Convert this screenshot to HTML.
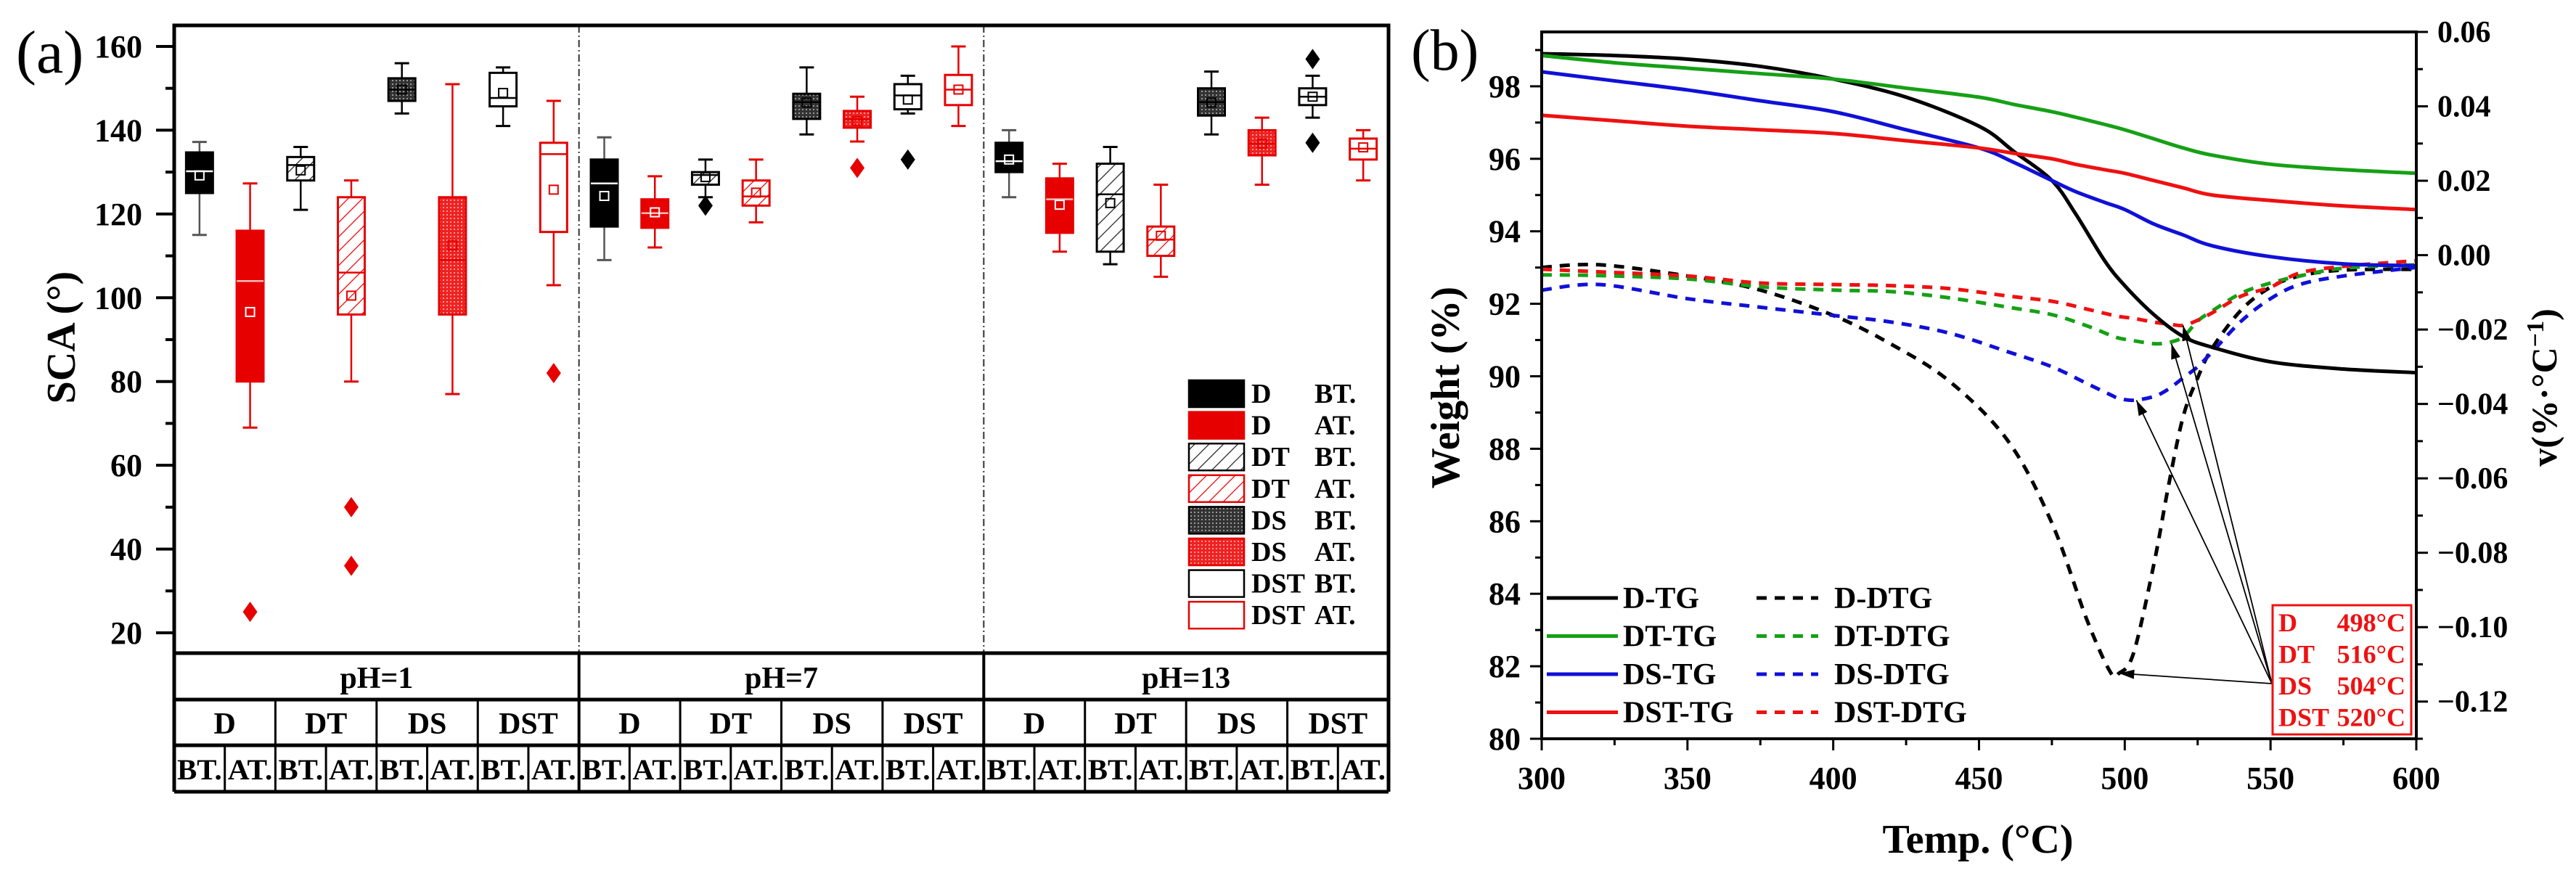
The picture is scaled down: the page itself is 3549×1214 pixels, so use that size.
<!DOCTYPE html>
<html><head><meta charset="utf-8"><style>
html,body{margin:0;padding:0;background:#fff;}
svg{display:block;font-family:"Liberation Serif",serif;}
</style></head><body>
<svg id="fig" width="3549" height="1214" viewBox="0 0 3549 1214" xmlns="http://www.w3.org/2000/svg">
<defs>
<pattern id="hatchK" width="14" height="14" patternUnits="userSpaceOnUse" patternTransform="rotate(45)"><rect width="14" height="14" fill="#fff"/><line x1="0" y1="0" x2="0" y2="14" stroke="#222" stroke-width="2.5"/></pattern>
<pattern id="hatchR" width="14" height="14" patternUnits="userSpaceOnUse" patternTransform="rotate(45)"><rect width="14" height="14" fill="#fff"/><line x1="0" y1="0" x2="0" y2="14" stroke="#e00" stroke-width="2.5"/></pattern>
<pattern id="dotK" width="5" height="5" patternUnits="userSpaceOnUse"><rect width="5" height="5" fill="#333"/><rect width="2" height="2" fill="#999"/></pattern>
<pattern id="dotR" width="5" height="5" patternUnits="userSpaceOnUse"><rect width="5" height="5" fill="#e22"/><rect width="2" height="2" fill="#f99"/></pattern>
</defs>
<text x="22" y="100" font-size="84">(a)</text>
<text x="1944" y="96" font-size="80">(b)</text>
<g id="A"></g>
<g id="B"></g>
</svg>
<script>
// ---------- Panel (a) data ----------
const groups = ["pH=1","pH=7","pH=13"];
const samples = ["D","DT","DS","DST"];
const states = ["BT.","AT."];
// [whiskerLow, q1, median, q3, whiskerHigh, mean]
const boxesPH1 = [[115,125,130.2,134.7,137.2,129.2],[69,80,104,116,127.3,96.6],[121,128,131.7,133.6,136,130.4],[80,96,106,124,128,100.5],[144,147,149.7,152.4,156,149.7],[77,96,109,124,151,112.5],[141,145.7,147.7,153.7,155,148.9],[103,115.7,134.3,137,147,125.8]];
const boxesPH7 = [[109,117,127.3,133,138.3,124.3],[112,116.7,120.2,123.5,129,120.4],[124,127,129.3,130,133,128.8],[118,122,124.2,128,133,125.1],[139,142.7,146.7,148.7,155,146.6],[137.3,140.6,142.6,144.6,148,142.2],[144,145,148.3,151,153,147.3],[141,146,149.7,153.2,160,149.7]];
const boxesPH13 = [[124,130,132.6,137,140,133],[111,115.5,123.5,128.5,132,122.2],[108,111,124.7,132,136,122.6],[105,110,113.9,117,127,114.8],[139,143.5,146.7,150,154,146.6],[127,134,136.8,140,143,136.8],[143,146,148,150,153,148],[128,133,135.6,138,140,135.9]];
const outliers = [[1,25],[3,50],[3,36],[7,82],[10,122],[13,131],[14,133],[22,157],[22,137]];
const yTicksA = [20,40,60,80,100,120,140,160];

// ---------- Panel (b) data ----------
const temps = [300,325,350,375,400,425,450,462,475,483,493,500,510,520,530,550,575,600];
const dTG   = [98.9,98.85,98.75,98.55,98.2,97.7,96.9,96.2,95.4,94.5,93.2,92.5,91.7,91.1,90.8,90.4,90.2,90.1];
const dtTG  = [98.85,98.65,98.5,98.35,98.2,97.95,97.7,97.5,97.3,97.15,96.95,96.8,96.55,96.3,96.1,95.85,95.7,95.6];
const dsTG  = [98.4,98.15,97.9,97.6,97.3,96.8,96.3,95.9,95.4,95.1,94.8,94.6,94.2,93.9,93.6,93.3,93.1,93.05];
const dstTG = [97.2,97.05,96.9,96.8,96.7,96.5,96.3,96.15,96.0,95.85,95.7,95.6,95.4,95.2,95.0,94.85,94.7,94.6];
const dtgTemps = [300,320,350,375,400,420,440,460,475,487,495,498,503,510,515,520,525,530,540,550,560,575,600];
const dDTG  = [-0.0033,-0.0026,-0.0056,-0.0094,-0.0162,-0.024,-0.034,-0.05,-0.072,-0.098,-0.112,-0.1124,-0.107,-0.083,-0.062,-0.0435,-0.033,-0.025,-0.0147,-0.0086,-0.0056,-0.004,-0.0038];
const dtDTG = [-0.0053,-0.0055,-0.0064,-0.0085,-0.0094,-0.0098,-0.0115,-0.014,-0.016,-0.019,-0.0215,-0.0223,-0.023,-0.0238,-0.0235,-0.022,-0.0177,-0.015,-0.0102,-0.0075,-0.0056,-0.0035,-0.0026];
const dsDTG = [-0.0094,-0.0079,-0.0117,-0.014,-0.0162,-0.018,-0.021,-0.026,-0.030,-0.0345,-0.0375,-0.0385,-0.039,-0.038,-0.036,-0.033,-0.030,-0.026,-0.0177,-0.0117,-0.0079,-0.0056,-0.0033];
const dstDTG= [-0.0038,-0.0045,-0.0056,-0.0075,-0.0079,-0.0082,-0.009,-0.011,-0.0124,-0.0145,-0.016,-0.0165,-0.017,-0.018,-0.0185,-0.0189,-0.0175,-0.0155,-0.011,-0.0086,-0.0048,-0.003,-0.0015];
const peakLabels = ["D","DT","DS","DST"];
const peakTemps = [498,516,504,520];
const peakVals = [-0.1124,-0.0238,-0.039,-0.0189];
const xTicksB = [300,350,400,450,500,550,600];
const yTicksL = [80,82,84,86,88,90,92,94,96,98];
const yTicksR = [-0.12,-0.10,-0.08,-0.06,-0.04,-0.02,0.00,0.02,0.04,0.06];

const NS="http://www.w3.org/2000/svg";
function mk(parent,tag,attrs,text){const e=document.createElementNS(NS,tag);for(const k in attrs)e.setAttribute(k,attrs[k]);if(text!==undefined)e.textContent=text;parent.appendChild(e);return e;}

// ---------- Panel A ----------
const A=document.getElementById('A');
const AL=240, AR=1913, AT=35, AB=900;
const colW=(AR-AL)/24;
const yA=v=>872-(v-20)*(808/140);
const xA=i=>AL+(i+0.5)*colW;
const styles=[
 {fill:"#000",st:"#000",med:"#fff",mean:"#fff",wh:"#555"},
 {fill:"#e60000",st:"#e60000",med:"#fbb",mean:"#fff",wh:"#e60000"},
 {fill:"url(#hatchK)",st:"#000",med:"#000",mean:"#000",wh:"#000"},
 {fill:"url(#hatchR)",st:"#e60000",med:"#e60000",mean:"#e60000",wh:"#e60000"},
 {fill:"url(#dotK)",st:"#000",med:"#000",mean:"#000",wh:"#000"},
 {fill:"url(#dotR)",st:"#e60000",med:"#e60000",mean:"#e60000",wh:"#e60000"},
 {fill:"#fff",st:"#000",med:"#000",mean:"#000",wh:"#000"},
 {fill:"#fff",st:"#e60000",med:"#e60000",mean:"#e60000",wh:"#e60000"}];
const allBoxes=[...boxesPH1,...boxesPH7,...boxesPH13];
allBoxes.forEach((b,i)=>{
  const s=styles[i%8], cx=xA(i), hw=18.5, cw=10;
  const g=mk(A,'g',{});
  
  
  mk(g,'line',{x1:cx,x2:cx,y1:yA(b[0]),y2:yA(b[1]),stroke:s.wh,'stroke-width':2.5});
  mk(g,'line',{x1:cx,x2:cx,y1:yA(b[3]),y2:yA(b[4]),stroke:s.wh,'stroke-width':2.5});
  mk(g,'line',{x1:cx-cw,x2:cx+cw,y1:yA(b[0]),y2:yA(b[0]),stroke:s.wh,'stroke-width':3});
  mk(g,'line',{x1:cx-cw,x2:cx+cw,y1:yA(b[4]),y2:yA(b[4]),stroke:s.wh,'stroke-width':3});
  mk(g,'rect',{x:cx-hw,y:yA(b[3]),width:2*hw,height:yA(b[1])-yA(b[3]),fill:s.fill,stroke:s.st,'stroke-width':3});
  mk(g,'line',{x1:cx-hw,x2:cx+hw,y1:yA(b[2]),y2:yA(b[2]),stroke:s.med,'stroke-width':2.5});
  mk(g,'rect',{x:cx-6,y:yA(b[5])-6,width:12,height:12,fill:'none',stroke:s.mean,'stroke-width':2});
});
outliers.forEach(o=>{
  const s=styles[o[0]%8], cx=xA(o[0]), cy=yA(o[1]);
  const p=mk(A,'polygon',{points:`${cx},${cy-14} ${cx+10},${cy} ${cx},${cy+14} ${cx-10},${cy}`,fill:s.st==="#000"?"#000":"#e60000"});
  
  
});
[1,2].forEach(k=>{const l=mk(A,'line',{x1:AL+k*8*colW,x2:AL+k*8*colW,y1:AT,y2:AB,stroke:'#333','stroke-width':2,'stroke-dasharray':'10 4 2 4'});
 
 });
const fr=mk(A,'path',{d:`M${AL},${AB} L${AL},${AT} L${AR},${AT} L${AR},1091`,fill:'none',stroke:'#000','stroke-width':5});


for(let v=20;v<=160;v+=10){const maj=v%20===0;mk(A,'line',{x1:AL,x2:AL-(maj?25:12),y1:yA(v),y2:yA(v),stroke:'#000','stroke-width':4});}
yTicksA.forEach(v=>{const t=mk(A,'text',{x:196,y:yA(v)+15,'font-size':44,'font-weight':'bold','text-anchor':'end'},String(v));
 
 });
const yt=mk(A,'text',{x:0,y:0,'font-size':56,'font-weight':'bold','text-anchor':'middle',transform:'translate(103,465) rotate(-90)'},'SCA (°)');


const rows=[900,964,1027,1091];
rows.forEach(y=>mk(A,'line',{x1:AL,x2:AR,y1:y,y2:y,stroke:'#000','stroke-width':5}));
mk(A,'line',{x1:AL,x2:AL,y1:900,y2:1091,stroke:'#000','stroke-width':5});
for(let k=1;k<24;k++){
  const x=AL+k*colW;
  if(k%8===0) mk(A,'line',{x1:x,x2:x,y1:900,y2:1091,stroke:'#000','stroke-width':4});
  else if(k%2===0) mk(A,'line',{x1:x,x2:x,y1:964,y2:1091,stroke:'#000','stroke-width':3});
  else mk(A,'line',{x1:x,x2:x,y1:1027,y2:1091,stroke:'#000','stroke-width':3});
}
groups.forEach((g,gi)=>{const t=mk(A,'text',{x:AL+(gi*8+4)*colW,y:948,'font-size':42,'font-weight':'bold','text-anchor':'middle'},g);
 
 
 samples.forEach((s,si)=>{const u=mk(A,'text',{x:AL+(gi*8+si*2+1)*colW,y:1011,'font-size':42,'font-weight':'bold','text-anchor':'middle'},s);
  
  
  states.forEach((st,ti)=>{const w=mk(A,'text',{x:AL+(gi*8+si*2+ti)*colW+4,y:1074,'font-size':40,'font-weight':'bold',textLength:colW-8,lengthAdjust:'spacingAndGlyphs'},st);
   
   });
 });
});
styles.forEach((s,i)=>{
  const y=542+i*43.6;
  const g=mk(A,'g',{});
  
  
  mk(g,'rect',{x:1638,y:y-18,width:76,height:37,fill:s.fill,stroke:s.st,'stroke-width':2.5});
  mk(g,'text',{x:1724,y:y+13,'font-size':38,'font-weight':'bold'},samples[Math.floor(i/2)]);
  mk(g,'text',{x:1811,y:y+13,'font-size':38,'font-weight':'bold'},states[i%2]);
});

// ---------- Panel B ----------
const B=document.getElementById('B');
const BL=2124,BR=3329,BT=44,BB=1018;
const xB=t=>BL+(t-300)/300*(BR-BL);
const yL=w=>BB-(w-80)/19.5*(BB-BT);
const yR=v=>BB-(v+0.13)/0.19*(BB-BT);
function smooth(pts){let d=`M${pts[0][0]},${pts[0][1]}`;for(let i=0;i<pts.length-1;i++){const p0=pts[i-1]||pts[i],p1=pts[i],p2=pts[i+1],p3=pts[i+2]||p2;
 d+=` C${p1[0]+(p2[0]-p0[0])/6},${p1[1]+(p2[1]-p0[1])/6} ${p2[0]-(p3[0]-p1[0])/6},${p2[1]-(p3[1]-p1[1])/6} ${p2[0]},${p2[1]}`;}return d;}
const green="#16a016", blue="#1010d8", red="#ee1111";
const tgSeries=[[dTG,"#000","d-tg"],[dtTG,green,"dt-tg"],[dsTG,blue,"ds-tg"],[dstTG,red,"dst-tg"]];
const dtgSeries=[[dDTG,"#000","d-dtg"],[dtDTG,green,"dt-dtg"],[dsDTG,blue,"ds-dtg"],[dstDTG,red,"dst-dtg"]];
dtgSeries.forEach(s=>{const p=mk(B,'path',{d:smooth(dtgTemps.map((t,i)=>[xB(t),yR(s[0][i])])),fill:'none',stroke:s[1],'stroke-width':5,'stroke-dasharray':'14 11'});
 
 });
tgSeries.forEach(s=>{const p=mk(B,'path',{d:smooth(temps.map((t,i)=>[xB(t),yL(s[0][i])])),fill:'none',stroke:s[1],'stroke-width':5});
 
 });
const fb=mk(B,'rect',{x:BL,y:BT,width:BR-BL,height:BB-BT,fill:'none',stroke:'#000','stroke-width':4});


for(let t=300;t<=600;t+=25){mk(B,'line',{x1:xB(t),x2:xB(t),y1:BB,y2:BB+(t%50===0?16:9),stroke:'#000','stroke-width':3});}
xTicksB.forEach(t=>{const e=mk(B,'text',{x:xB(t),y:1087,'font-size':44,'font-weight':'bold','text-anchor':'middle'},String(t));
 
 });
for(let w=80;w<=99;w+=1){mk(B,'line',{x1:BL,x2:BL-(w%2===0?16:9),y1:yL(w),y2:yL(w),stroke:'#000','stroke-width':3});}
yTicksL.forEach(w=>{const e=mk(B,'text',{x:2095,y:yL(w)+15,'font-size':44,'font-weight':'bold','text-anchor':'end'},String(w));
 
 });
for(let k=-13;k<=6;k++){const v=k/100;mk(B,'line',{x1:BR,x2:BR+(k%2===0?16:9),y1:yR(v),y2:yR(v),stroke:'#000','stroke-width':3});}
yTicksR.forEach(v=>{const s=v===0?'0.00':(v<0?'\u2212'+Math.abs(v).toFixed(2):v.toFixed(2));
 const e=mk(B,'text',{x:3358,y:yR(v)+14,'font-size':42,'font-weight':'bold'},s);
 
 });
const xt=mk(B,'text',{x:2725,y:1175,'font-size':56,'font-weight':'bold','text-anchor':'middle'},'Temp. (°C)');


const ylt=mk(B,'text',{x:0,y:0,'font-size':56,'font-weight':'bold','text-anchor':'middle',transform:'translate(2010,534) rotate(-90)'},'Weight (%)');


const yrt=mk(B,'text',{x:0,y:0,'font-size':50,'font-weight':'bold','text-anchor':'middle',transform:'translate(3522,534) rotate(-90)'});
yrt.innerHTML='v(%·°C<tspan dy="-18" font-size="34">−1</tspan><tspan dy="18">)</tspan>';


const legNames=["D","DT","DS","DST"];
legNames.forEach((n,i)=>{const y=824+i*52.5;
 const g=mk(B,'g',{});
 
 
 mk(g,'line',{x1:2131,x2:2229,y1:y,y2:y,stroke:tgSeries[i][1],'stroke-width':5});
 mk(g,'text',{x:2236,y:y+14,'font-size':42,'font-weight':'bold'},n+'-TG');
 mk(g,'line',{x1:2420,x2:2505,y1:y,y2:y,stroke:dtgSeries[i][1],'stroke-width':5,'stroke-dasharray':'14 11'});
 mk(g,'text',{x:2527,y:y+14,'font-size':42,'font-weight':'bold'},n+'-DTG');
});
peakLabels.forEach((n,i)=>{const px=xB(peakTemps[i]),py=yR(peakVals[i]);
 const l=mk(B,'line',{x1:3130,y1:942,x2:px,y2:py,stroke:'#000','stroke-width':1.8});
 
 
 const ang=Math.atan2(942-py,3130-px);const a1=ang+0.3,a2=ang-0.3;
 mk(B,'polygon',{points:`${px},${py} ${px+22*Math.cos(a1)},${py+22*Math.sin(a1)} ${px+22*Math.cos(a2)},${py+22*Math.sin(a2)}`,fill:'#000'});
});
const box=mk(B,'rect',{x:3131,y:834,width:191,height:178,fill:'#fff',stroke:red,'stroke-width':3});


peakLabels.forEach((n,i)=>{const y=870+i*43.5;
 const t1=mk(B,'text',{x:3139,y:y,'font-size':36,'font-weight':'bold',fill:red},n);
 
 
 const t2=mk(B,'text',{x:3314,y:y,'font-size':36,'font-weight':'bold',fill:red,'text-anchor':'end'},peakTemps[i]+'°C');
 
 
});
</script>
</body></html>
